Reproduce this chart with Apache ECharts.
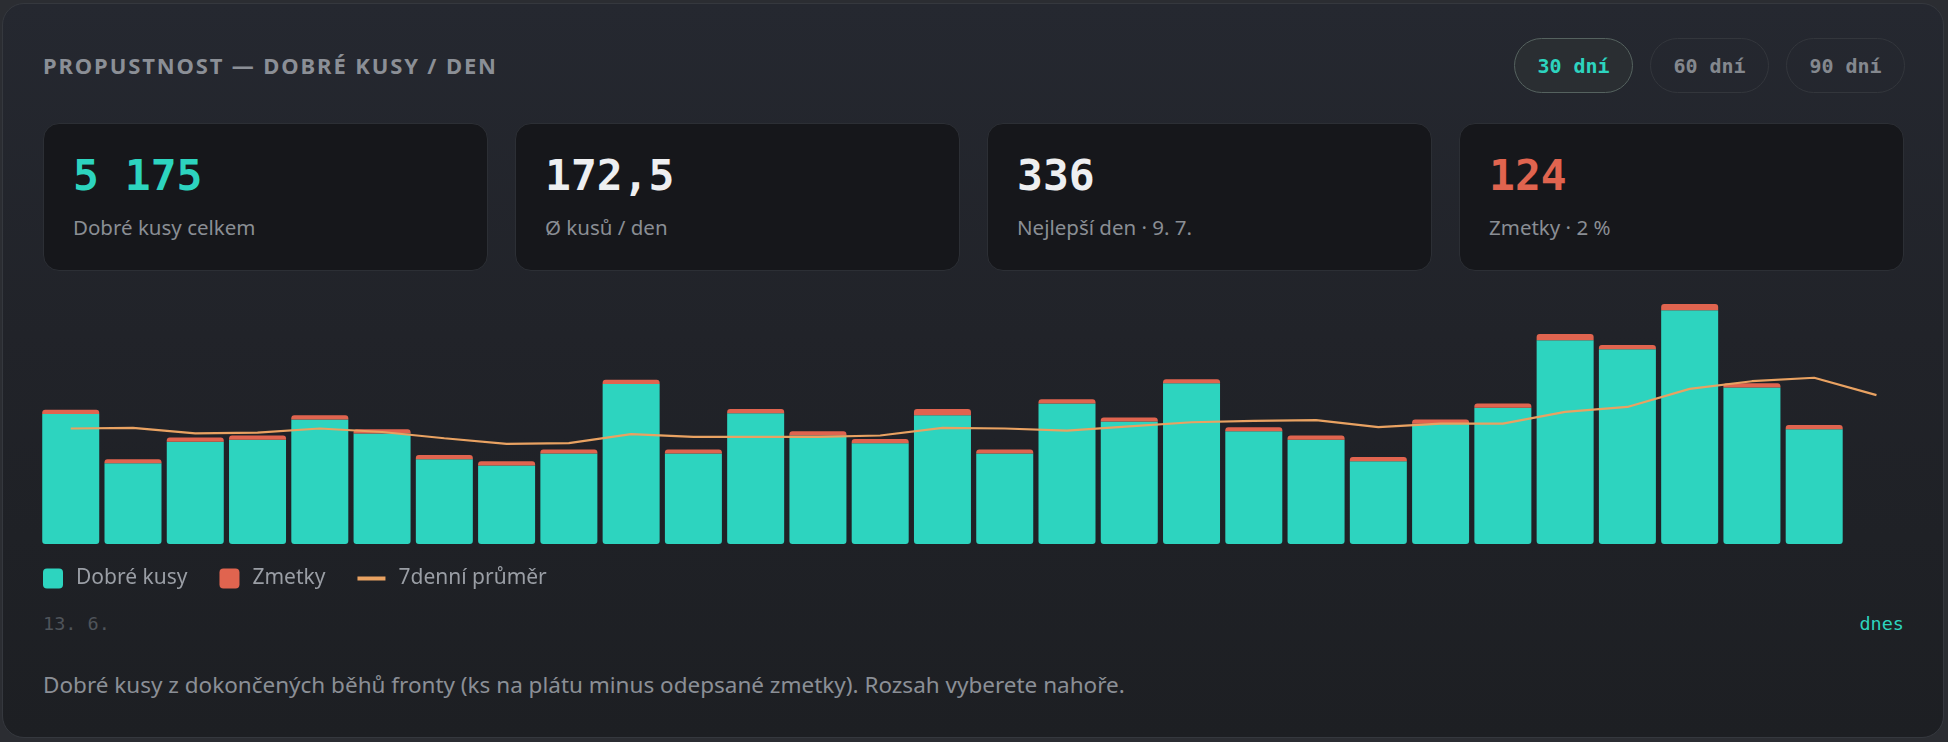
<!DOCTYPE html>
<html lang="cs">
<head>
<meta charset="utf-8">
<title>Propustnost</title>
<script src="https://cdn.jsdelivr.net/npm/echarts@6/dist/echarts.min.js"></script>
<style>
  html, body { margin: 0; padding: 0; width: 1948px; height: 742px; overflow: hidden; background: #2b2d32; }
  body { position: relative; font-family: 'Noto Sans', 'Open Sans', sans-serif; }
  .panel {
    position: absolute; left: 2px; top: 3px; width: 1940px; height: 733px;
    border: 1px solid #35383e; border-radius: 22px;
    background: linear-gradient(180deg, #252830 0%, #212329 45%, #1d1f23 100%);
  }
  .title {
    position: absolute; left: 43px; top: 54px; font-size: 22px; line-height: 22px;
    font-weight: 700; letter-spacing: 0.085em; color: #8b8f96;
  }
  .btn {
    position: absolute; top: 38px; width: 119px; height: 55px; box-sizing: border-box;
    border: 1.5px solid #33363c; border-radius: 28px;
    font-family: 'DejaVu Sans Mono', monospace; font-weight: 700; font-size: 20px;
    color: #84888e; display: flex; align-items: center; justify-content: center;
  }
  .btn.on { color: #2dd4bf; border-color: #55625f; background: #2a2e32; }
  .kpi {
    position: absolute; top: 123px; width: 445px; height: 148px; box-sizing: border-box;
    border: 1px solid #2c2f35; border-radius: 16px; background: #16171b;
  }
  .kpi .num {
    position: absolute; left: 29px; top: 30px; font-family: 'DejaVu Sans Mono', monospace;
    font-weight: 700; font-size: 43px; line-height: 43px; color: #eeeff1; white-space: pre;
  }
  .kpi .lbl {
    position: absolute; left: 29px; top: 92px; font-size: 20.5px; line-height: 22px; color: #8a8e94;
  }
  .range {
    position: absolute; top: 614px; font-family: 'DejaVu Sans Mono', monospace;
    font-size: 18.5px; line-height: 20px; color: #4f545a;
  }
  .note {
    position: absolute; left: 43px; top: 672px; font-size: 22.5px; line-height: 26px; color: #8b8f96;
  }
  #chart { position: absolute; left: 0; top: 280px; width: 1948px; height: 330px; }
</style>
</head>
<body>
<div class="panel"></div>
<div class="title">PROPUSTNOST — DOBRÉ KUSY / DEN</div>
<div class="btn on" style="left:1514px">30 dní</div>
<div class="btn" style="left:1650px">60 dní</div>
<div class="btn" style="left:1786px">90 dní</div>

<div class="kpi" style="left:43px"><div class="num" style="color:#2dd4bf">5 175</div><div class="lbl">Dobré kusy celkem</div></div>
<div class="kpi" style="left:515px"><div class="num">172,5</div><div class="lbl">Ø kusů / den</div></div>
<div class="kpi" style="left:987px"><div class="num">336</div><div class="lbl">Nejlepší den · 9. 7.</div></div>
<div class="kpi" style="left:1459px"><div class="num" style="color:#e0644f">124</div><div class="lbl">Zmetky · 2 %</div></div>

<div id="chart"></div>
<div class="range" id="rangeFrom" style="left:43px"></div>
<div class="range" id="rangeTo" style="right:44px; color:#2dd4bf"></div>
<div class="note">Dobré kusy z dokončených běhů fronty (ks na plátu minus odepsané zmetky). Rozsah vyberete nahoře.</div>

<script>
// dny 13. 6. – 12. 7. (poslední = dnes)
const days = [
  '13. 6.', '14. 6.', '15. 6.', '16. 6.', '17. 6.', '18. 6.', '19. 6.', '20. 6.', '21. 6.', '22. 6.',
  '23. 6.', '24. 6.', '25. 6.', '26. 6.', '27. 6.', '28. 6.', '29. 6.', '30. 6.', '1. 7.', '2. 7.',
  '3. 7.', '4. 7.', '5. 7.', '6. 7.', '7. 7.', '8. 7.', '9. 7.', '10. 7.', '11. 7.', '12. 7.'
]
const goodPieces = [
  187, 116, 147, 150, 179, 159, 122, 113, 130, 230,
  130, 188, 156, 145, 185, 130, 202, 176, 231, 162,
  150, 119, 173, 196, 293, 280, 336, 225, 165, 0
]
const scrapPieces = [
  6, 6, 6, 6, 6, 6, 6, 6, 6, 6,
  6, 6, 6, 6, 9, 6, 6, 6, 6, 6,
  6, 6, 6, 6, 9, 6, 9, 6, 6, 0
]
const avg7 = [
  166, 167, 159, 160, 166, 161, 152, 144, 145, 158,
  154, 154, 154, 156, 167, 166, 163, 169, 175, 177,
  178, 168, 173, 173, 190, 197, 223, 234, 239, 214
]
const rangeLabels = ['13. 6.', 'dnes']

const TEAL = '#2dd4bf'
const RED = '#e0644f'
const ORANGE = '#e9a262'

document.getElementById('rangeFrom').textContent = rangeLabels[0]
document.getElementById('rangeTo').textContent = rangeLabels[1]

const squareIcon = 'path://M4,0h12a4,4 0 0 1 4,4v12a4,4 0 0 1 -4,4h-12a4,4 0 0 1 -4,-4v-12a4,4 0 0 1 4,-4z'
const lineIcon = 'path://M0,0h28v4h-28z'

const chart = echarts.init(document.getElementById('chart'))
chart.setOption({
  animation: false,
  grid: { left: 39.6, width: 1868, top: 24, height: 240 },
  legend: {
    left: 38,
    top: 283,
    itemWidth: 28,
    itemHeight: 20,
    itemGap: 32,
    textStyle: { color: '#9a9ea5', fontSize: 21, fontFamily: 'Noto Sans', padding: [0, 0, 0, 4] },
    data: [
      { name: 'Dobré kusy', icon: squareIcon },
      { name: 'Zmetky', icon: squareIcon },
      { name: '7denní průměr', icon: lineIcon, textStyle: { padding: [0, 0, 0, 8] } }
    ]
  },
  xAxis: { type: 'category', data: days, show: false },
  yAxis: { type: 'value', min: 0, max: 345, show: false },
  series: [
    {
      name: 'Dobré kusy',
      type: 'bar',
      stack: 'den',
      barWidth: 57,
      data: goodPieces,
      itemStyle: { color: TEAL, borderRadius: [0, 0, 3, 3] }
    },
    {
      name: 'Zmetky',
      type: 'bar',
      stack: 'den',
      barWidth: 57,
      data: scrapPieces,
      itemStyle: { color: RED, borderRadius: [3, 3, 0, 0] }
    },
    {
      name: '7denní průměr',
      type: 'line',
      data: avg7,
      showSymbol: false,
      symbol: 'none',
      z: 5,
      itemStyle: { color: ORANGE },
      lineStyle: { color: ORANGE, width: 2.2 }
    }
  ]
})
</script>
</body>
</html>
